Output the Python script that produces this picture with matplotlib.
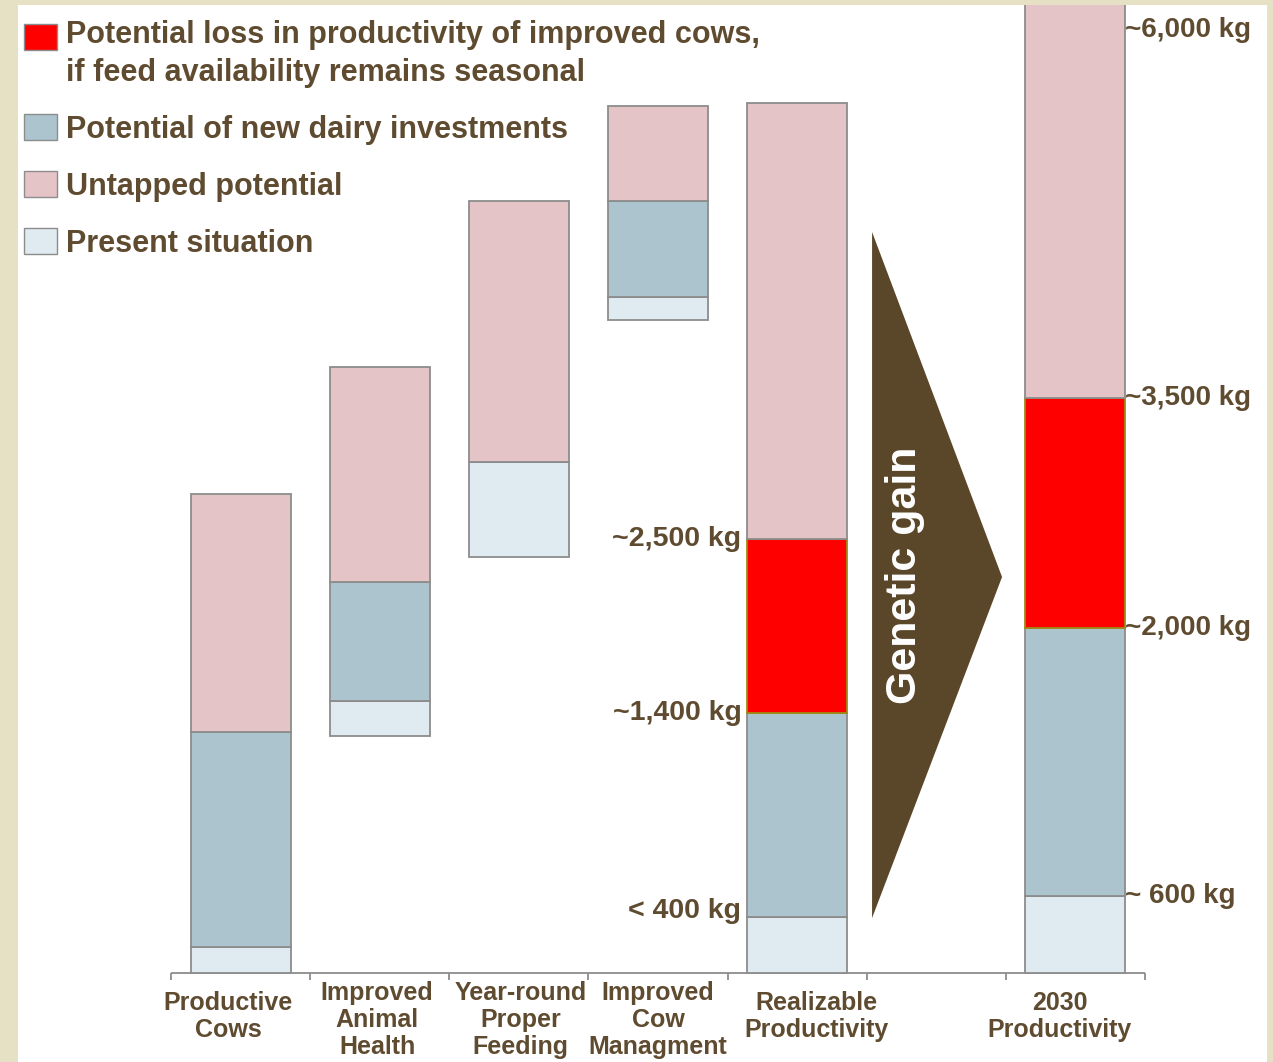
import matplotlib.pyplot as plt
import numpy as np
from matplotlib.patches import Patch, Polygon

# chart units: segment heights as drawn (not linear in kg)
categories = ['Productive\nCows', 'Improved\nAnimal\nHealth', 'Year-round\nProper\nFeeding',
              'Improved\nCow\nManagment', 'Realizable\nProductivity', '', '2030\nProductivity']
start = [0, 23.7, 41.6, 65.3, 0, 0, 0]
present = [2.6, 3.5, 9.5, 2.3, 5.6, 0, 7.7]
investments = [21.5, 11.9, 0, 9.6, 20.4, 0, 26.8]
loss = [0, 0, 0, 0, 17.4, 0, 23.0]
untapped = [23.8, 21.5, 26.1, 9.5, 43.6, 0, 42.0]

left_labels = ['~2,500 kg', '~1,400 kg', '< 400 kg']
right_labels = ['~6,000 kg', '~3,500 kg', '~2,000 kg', '~ 600 kg']

txt = '#5f4b30'
edge = '#8c8c8c'
c_present, c_inv, c_loss, c_untap = '#dfebf0', '#abc4ce', '#ff0000', '#e5c4c7'
font = ['Liberation Sans', 'DejaVu Sans']

fig = plt.figure(figsize=(12.73, 10.62), dpi=100, facecolor='#e6e0c4')
ax = fig.add_axes([18 / 1273, 0, 1249 / 1273, 1057 / 1062])
ax.set_facecolor('white')
ax.set_xlim(-1.604, 7.381)
ax.set_ylim(-8.9, 96.8)
for s in ax.spines.values():
    s.set_visible(False)
ax.set_xticks([])
ax.set_yticks([])

x = np.arange(len(categories))
w = 0.72
b = np.array(start, dtype=float)
for vals, col, ec in [(present, c_present, edge), (investments, c_inv, edge),
                      (loss, c_loss, '#a08a10'), (untapped, c_untap, edge)]:
    v = np.array(vals, dtype=float)
    m = v > 0
    ax.bar(x[m], v[m], w, bottom=b[m], color=col, edgecolor=ec, linewidth=1.3, zorder=3)
    b = b + v

# baseline with ticks between slots
ax.hlines(0, -0.5, 6.5, color=edge, lw=1.3, zorder=2)
for t in np.arange(-0.5, 7, 1.0):
    ax.vlines(t, -0.7, 0, color=edge, lw=1.3, zorder=2)

lab_dx = [-0.09, -0.02, 0.01, 0.0, 0.14, 0, -0.11]
for i, c in enumerate(categories):
    if not c:
        continue
    n = c.count('\n') + 1
    y0 = -0.8 if n == 3 else -1.8
    ax.text(i + lab_dx[i], y0, c, ha='center', va='top', fontsize=18, fontweight='bold',
            color=txt, family=font, linespacing=1.15)

# genetic gain arrow
ax.add_patch(Polygon([[4.54, 74.1], [4.54, 5.5], [5.475, 39.6]], closed=True,
                     facecolor='#5a4628', edgecolor='none', zorder=2))
ax.text(4.78, 39.8, 'Genetic gain', rotation=90, ha='center', va='center', color='white',
        fontsize=31, fontweight='bold', family=font)

# value labels, realizable bar
real = 4
lv = [present[real] + investments[real] + loss[real], present[real] + investments[real],
      present[real] + 0.6]
for s, yv in zip(left_labels, lv):
    ax.text(real - w / 2 - 0.04, yv, s, ha='right', va='center', fontsize=20.5,
            fontweight='bold', color=txt, family=font)

# value labels, 2030 bar
k = 6
rv = [None, present[k] + investments[k] + loss[k], present[k] + investments[k], present[k]]
xr = k + w / 2 + 0.0
for s, yv in zip(right_labels, rv):
    if yv is None:
        ax.text(xr, 0.976, s, ha='left', va='center', fontsize=20, fontweight='bold',
                color=txt, family=font, transform=ax.get_xaxis_transform())
    else:
        ax.text(xr, yv, s, ha='left', va='center', fontsize=20, fontweight='bold',
                color=txt, family=font)

handles = [Patch(facecolor=c_loss, edgecolor=edge), Patch(facecolor=c_inv, edgecolor=edge),
           Patch(facecolor=c_untap, edgecolor=edge), Patch(facecolor=c_present, edgecolor=edge)]
names = ['Potential loss in productivity of improved cows,\nif feed availability remains seasonal',
         'Potential of new dairy investments', 'Untapped potential', 'Present situation']
leg = ax.legend(handles, names, loc='upper left', bbox_to_anchor=(-0.0095, 1.003), frameon=False,
                prop={'family': font, 'weight': 'bold', 'size': 22}, handlelength=1.05,
                handleheight=0.95, handletextpad=0.3, labelspacing=0.86, borderaxespad=0.2)
for t in leg.get_texts():
    t.set_color(txt)
    t.set_linespacing(1.33)
# first swatch sits beside the first line of its two-line label
h0 = leg.legend_handles[0]
h0.set_y(h0.get_y() + 13)

fig.savefig('out.png', dpi=100, facecolor=fig.get_facecolor())
